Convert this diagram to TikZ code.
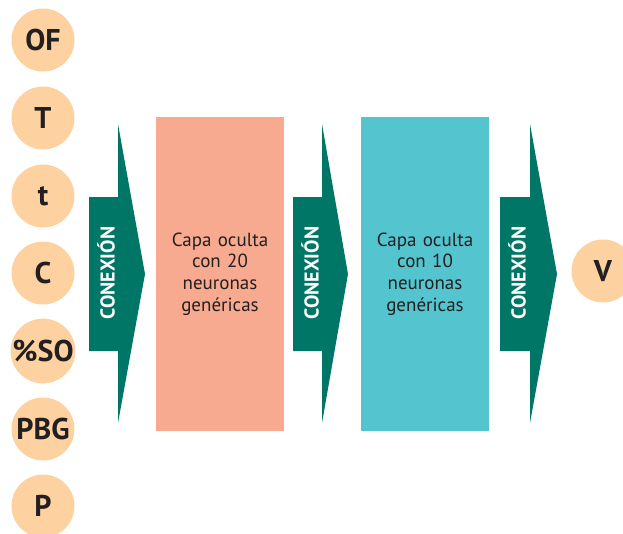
\documentclass[tikz,border=0pt]{standalone}
\usepackage{fontspec}
\setmainfont{PT Sans}

\definecolor{peach}{RGB}{253,210,160}
\definecolor{salmon}{RGB}{247,170,143}
\definecolor{aqua}{RGB}{84,196,207}
\definecolor{darkgreen}{RGB}{0,118,103}
\definecolor{inktext}{RGB}{35,31,32}

\begin{document}
\begin{tikzpicture}[x=1pt,y=-1pt]

	% INPUTS

	\newcommand{\bodytop}{197}			% top of the arrow body
	\newcommand{\bodybot}{351}			% bottom of the arrow body
	\newcommand{\headtop}{124}			% top of the arrow head
	\newcommand{\headbot}{423}			% bottom of the arrow head
	\newcommand{\midy}{274}				% middle line of the drawing

	% page size
	\useasboundingbox (0,0) rectangle (623,533);

	% styles
	\tikzstyle{invar}=[circle,fill=peach,minimum size=63pt,inner sep=0pt,text=inktext,font=\fontsize{30}{30}\selectfont\bfseries];
	\tikzstyle{layer}=[rectangle,minimum width=128pt,minimum height=314pt,inner sep=0pt,text=inktext,text width=120pt,align=center,font=\fontsize{19}{21.7}\selectfont];
	\tikzstyle{conexion}=[fill=darkgreen];
	\tikzstyle{conexionlabel}=[rotate=90,text=white,font=\fontsize{20}{20}\selectfont\bfseries];

	% input neurons
	\node[style=invar] (nOF) at (43,40) {OF};
	\node[style=invar] (nT) at (43,118) {T};
	\node[style=invar] (nt) at (43,196) {t};
	\node[style=invar] (nC) at (43,273) {C};
	\node[style=invar] (nSO) at (43,351) {\%SO};
	\node[style=invar] (nPBG) at (43,429) {PBG};
	\node[style=invar] (nP) at (43,506) {P};

	% hidden layers
	\node[style=layer,fill=salmon] (hidden1) at (220,\midy) {Capa oculta\\con 20\\neuronas\\genéricas};
	\node[style=layer,fill=aqua] (hidden2) at (425,\midy) {Capa oculta\\con 10\\neuronas\\genéricas};

	% output neuron
	\node[style=invar] (nV) at (603,271) {V};

	% first connection
	\fill[style=conexion] (89,\bodytop) -- (118,\bodytop) -- (118,\headtop) -- (145,\midy) -- (118,\headbot) -- (118,\bodybot) -- (89,\bodybot) -- cycle;
	\node[style=conexionlabel] (con1) at (106,273) {CONEXIÓN};

	% second connection
	\fill[style=conexion] (293,\bodytop) -- (322,\bodytop) -- (322,\headtop) -- (348,\midy) -- (322,\headbot) -- (322,\bodybot) -- (293,\bodybot) -- cycle;
	\node[style=conexionlabel] (con2) at (310,273) {CONEXIÓN};

	% third connection
	\fill[style=conexion] (500,\bodytop) -- (530,\bodytop) -- (530,\headtop) -- (557,\midy) -- (530,\headbot) -- (530,\bodybot) -- (500,\bodybot) -- cycle;
	\node[style=conexionlabel] (con3) at (517,273) {CONEXIÓN};

\end{tikzpicture}
\end{document}
